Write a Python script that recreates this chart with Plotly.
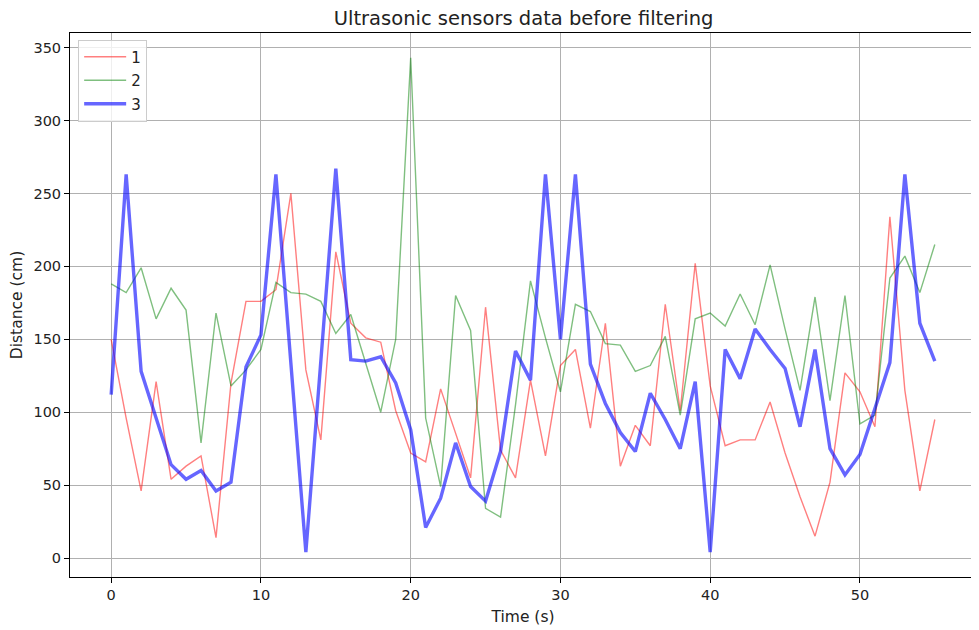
import plotly.graph_objects as go

# sensor readings, one value per second
t = list(range(56))

s1 = [150, 96, 46, 121, 54, 63, 70, 14, 120, 176,
      176, 184, 250, 129, 81, 210, 161, 151, 148, 101,
      72, 66, 116, 86, 55, 172, 74, 55, 122, 70,
      132, 143, 89, 161, 63, 91, 77, 174, 101, 202,
      118, 77, 81, 81, 107, 72, 42, 15, 52, 127,
      114, 90, 234, 115, 46, 95]

s2 = [188, 182, 199, 164, 185, 170, 79, 168, 118, 129,
      143, 189, 182, 181, 176, 154, 167, 134, 100, 150,
      343, 96, 49, 180, 156, 34, 28, 105, 190, 151,
      114, 174, 169, 147, 146, 128, 132, 152, 98, 164,
      168, 159, 181, 160, 201, 157, 115, 179, 108, 180,
      92, 98, 192, 207, 182, 215]

s3 = [112, 263, 128, 96, 64, 54, 60, 46, 52, 131,
      153, 263, 134, 4, 135, 267, 136, 135, 138, 120,
      88, 21, 41, 79, 49, 39, 73, 142, 122, 263,
      150, 263, 133, 106, 86, 73, 113, 95, 75, 121,
      4, 143, 123, 157, 143, 130, 90, 143, 75, 57,
      71, 102, 134, 263, 161, 135]

fig = go.Figure()
fig.add_trace(go.Scatter(x=t, y=s1, mode="lines", name="1", legendgroup="a",
                         line=dict(color="rgba(255,0,0,0.5)", width=1.4)))
fig.add_trace(go.Scatter(x=t, y=s2, mode="lines", name="2", legendgroup="b",
                         line=dict(color="rgba(0,128,0,0.5)", width=1.4)))
fig.add_trace(go.Scatter(x=t, y=s3, mode="lines", name="3", legendgroup="c",
                         line=dict(color="rgba(0,0,255,0.6)", width=3.4)))

axis_style = dict(showline=True, linecolor="black", linewidth=1, mirror=True,
                  ticks="outside", ticklen=5, tickcolor="black",
                  showgrid=True, gridcolor="#b0b0b0", gridwidth=1,
                  zeroline=False, tickfont=dict(size=14.5, color="#222"))

# page adds an 8px body margin, so the figure is 8px smaller than the window
fig.update_layout(
    width=971, height=622,
    margin=dict(l=62, r=3, t=25, b=53),
    paper_bgcolor="white", plot_bgcolor="white",
    font=dict(family="DejaVu Sans", color="#222"),
    title=dict(text="Ultrasonic sensors data before filtering",
               x=0.531, xanchor="center", y=0.984, yanchor="middle",
               font=dict(size=19.5)),
    legend=dict(x=0.009, y=0.988, xanchor="left", yanchor="top",
                bgcolor="rgba(255,255,255,0.8)", bordercolor="#cccccc",
                borderwidth=1, font=dict(size=15), itemwidth=42,
                tracegroupgap=1),
)
fig.update_xaxes(range=[-2.75, 57.75], tickvals=[0, 10, 20, 30, 40, 50],
                 title=dict(text="Time (s)", font=dict(size=15.5), standoff=8),
                 **axis_style)
fig.update_yaxes(range=[-13, 360], tickvals=[0, 50, 100, 150, 200, 250, 300, 350],
                 title=dict(text="Distance (cm)", font=dict(size=15.5), standoff=12),
                 automargin=False, **axis_style)

fig.write_html("out.html")
